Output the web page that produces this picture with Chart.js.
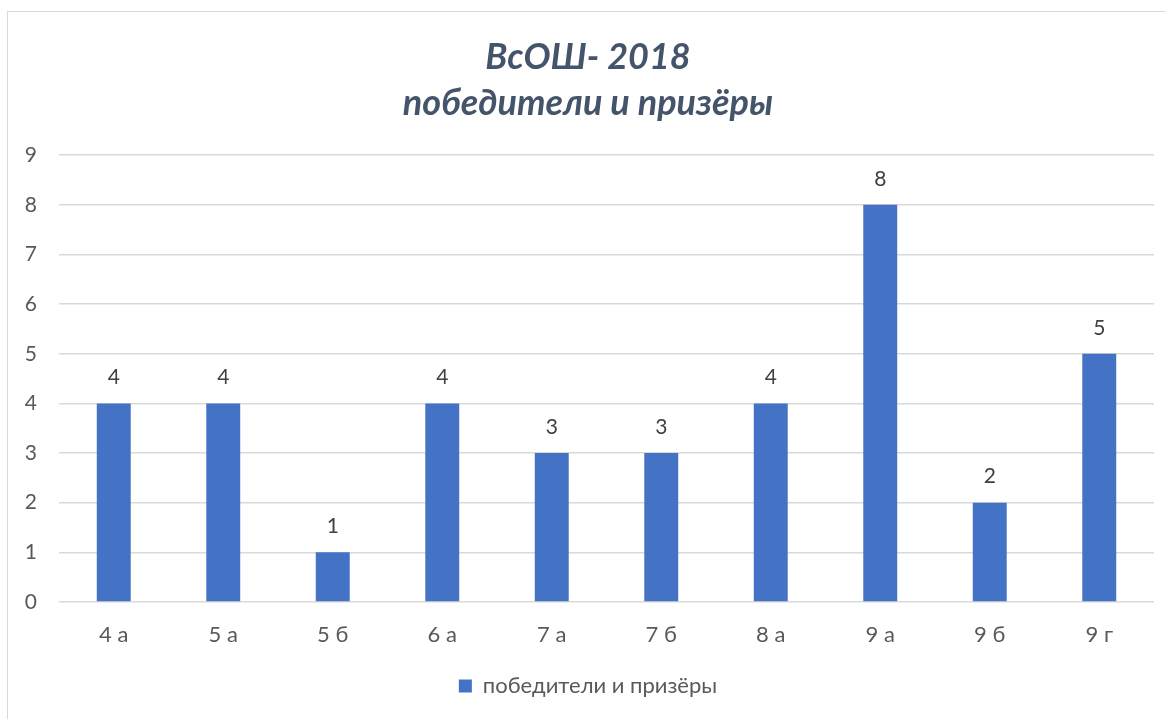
<!DOCTYPE html>
<html>
<head>
<meta charset="utf-8">
<script src="https://cdn.jsdelivr.net/npm/chart.js@4"></script>
<style>
  html, body { margin:0; padding:0; background:#fff; overflow:hidden; }
  #rama { position:absolute; left:7px; top:11px; width:1200px; height:760px; border:1px solid #d9d9d9; }
  #grafico { position:absolute; left:0; top:0; }
</style>
</head>
<body>
<div id="rama"></div>
<canvas id="grafico" width="1166" height="719"></canvas>
<script>
// --- Dados ---
const classes = ["4 а", "5 а", "5 б", "6 а", "7 а", "7 б", "8 а", "9 а", "9 б", "9 г"];
const vencedores = [4, 4, 1, 4, 3, 3, 4, 8, 2, 5];
const titulo = ["ВсОШ- 2018", "победители и призёры"];
const nomeSerie = "победители и призёры";

const fonte = "Lato, 'Open Sans', sans-serif";

// rótulos acima das barras
const rotulos = {
    id: "rotulos",
    afterDatasetsDraw(chart) {
        const ctx = chart.ctx;
        const meta = chart.getDatasetMeta(0);
        ctx.save();
        ctx.font = "21px " + fonte;
        ctx.fillStyle = "#404040";
        ctx.textAlign = "center";
        ctx.textBaseline = "middle";
        meta.data.forEach((bar, i) => {
            ctx.fillText(String(vencedores[i]), bar.x, bar.y - 26);
        });
        ctx.restore();
    }
};

new Chart(document.getElementById("grafico"), {
    type: "bar",
    data: {
        labels: classes,
        datasets: [{
            label: nomeSerie,
            data: vencedores,
            backgroundColor: "#4472C4",
            borderWidth: 0,
            categoryPercentage: 1,
            barPercentage: 0.31
        }]
    },
    options: {
        responsive: false,
        animation: false,
        // padding esquerdo desloca o centro do título/legenda para a direita
        layout: { padding: { left: 22, right: 12, top: 0, bottom: 12 } },
        plugins: {
            title: {
                display: true,
                text: titulo,
                color: "#44546A",
                font: { family: fonte, size: 36, style: "italic", weight: "bold", lineHeight: 1.28 },
                padding: { top: 34, bottom: 29 }
            },
            legend: {
                position: "bottom",
                labels: {
                    color: "#595959",
                    font: { family: fonte, size: 22 },
                    boxWidth: 13,
                    boxHeight: 13,
                    padding: 10
                }
            },
            tooltip: { enabled: false }
        },
        scales: {
            x: {
                grid: { display: false },
                border: { display: false },
                ticks: { color: "#595959", font: { family: fonte, size: 22 }, padding: 12 },
                afterFit(scale) { scale.height = 63; }
            },
            y: {
                min: 0,
                max: 9,
                grid: { color: "#d9d9d9", lineWidth: 1.5, drawTicks: false },
                border: { display: false },
                ticks: { stepSize: 1, color: "#595959", font: { family: fonte, size: 21 }, padding: 22 },
                afterFit(scale) { scale.width = 37; }
            }
        }
    },
    plugins: [rotulos]
});
</script>
</body>
</html>
